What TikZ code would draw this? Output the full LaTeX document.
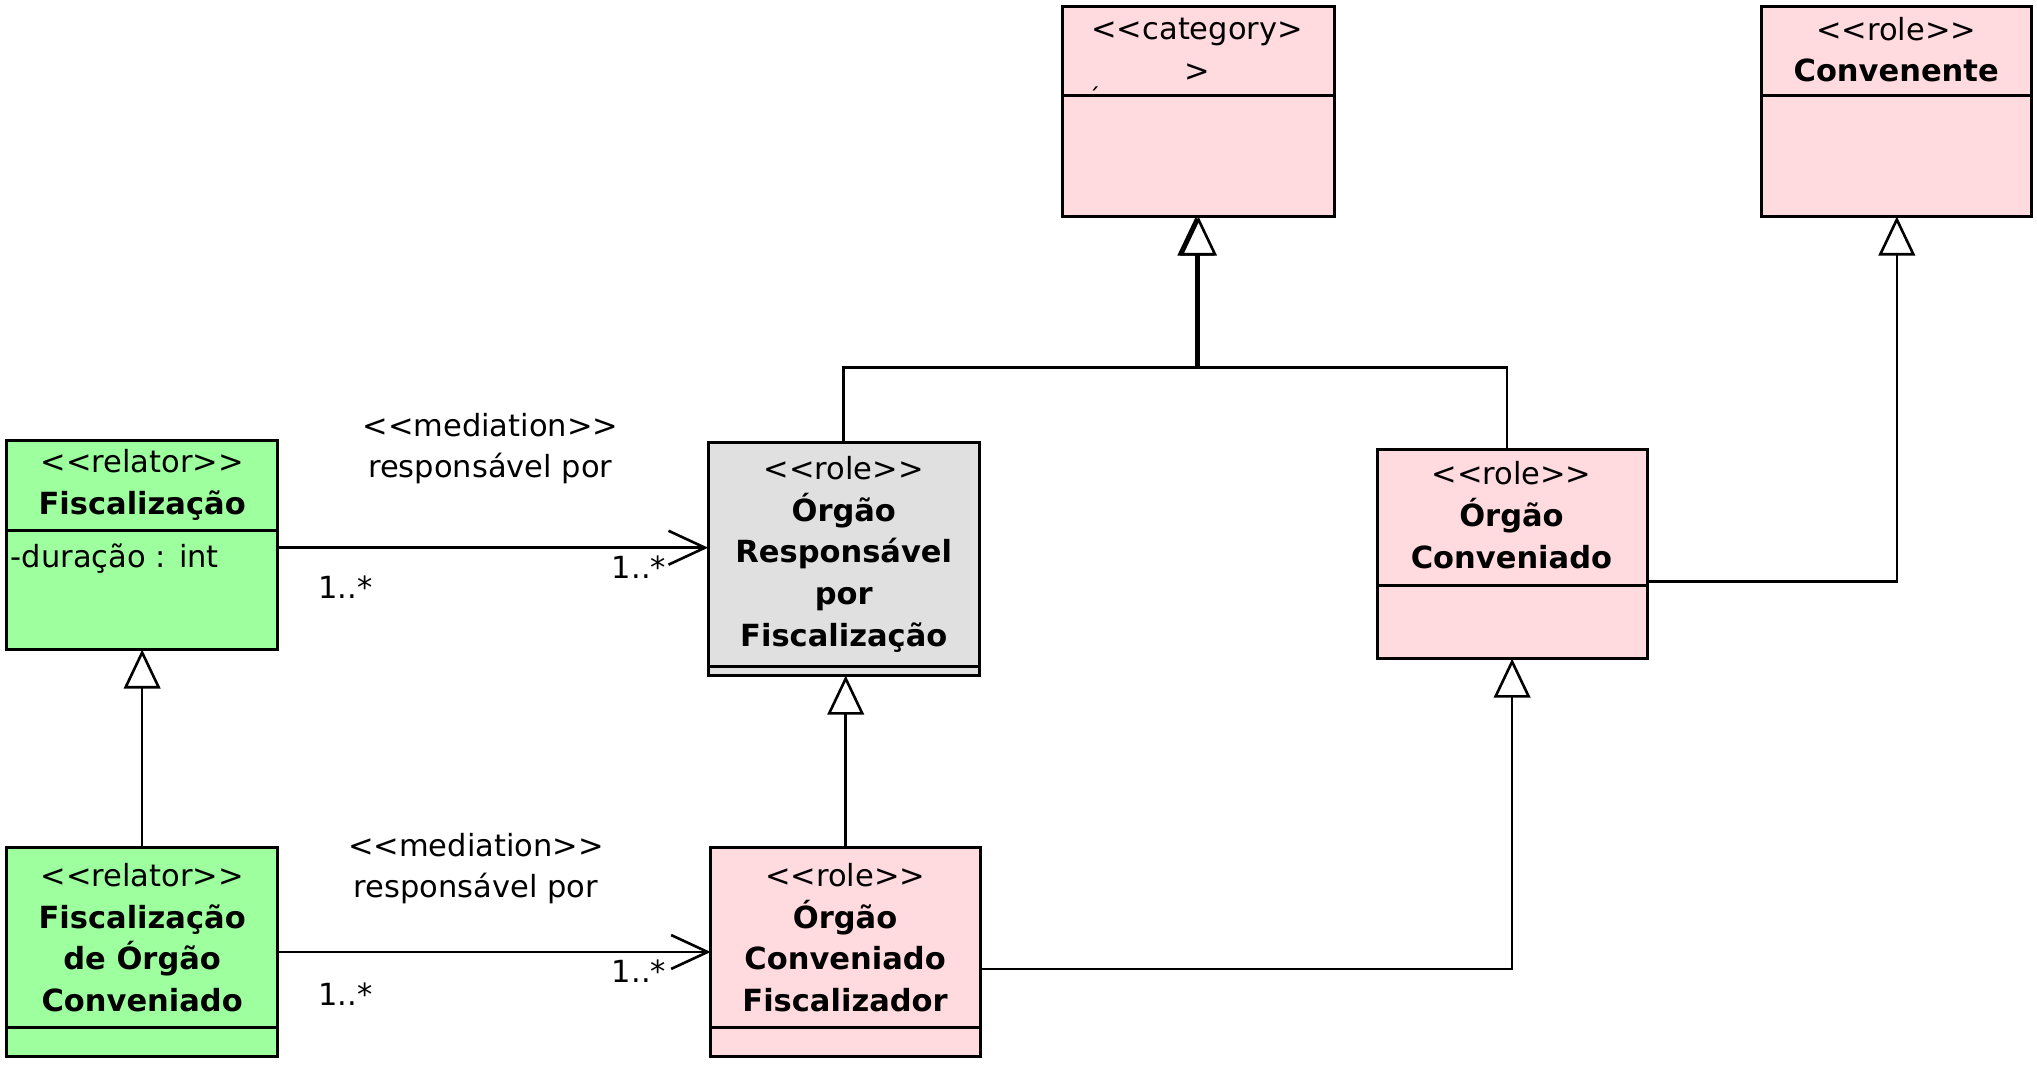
\documentclass[tikz,border=0pt]{standalone}
\usepackage{fontspec}
\setmainfont{DejaVu Sans}
\usetikzlibrary{arrows.meta}
\definecolor{relgreen}{RGB}{158,255,158}
\definecolor{rolepink}{RGB}{255,218,222}
\definecolor{rolegrey}{RGB}{224,224,224}
\newcommand\stereo[1]{<{}<#1>{}>}
\begin{document}
\begin{tikzpicture}[x=0.5pt,y=-0.5pt,
  txt/.style={font=\fontsize{11.7}{16}\selectfont, align=center, inner sep=0pt},
  classbox/.style={draw, line width=1.2pt, inner sep=0pt, outer sep=0pt, anchor=north west},
  sepline/.style={line width=1.2pt},
  gen/.style={line width=1pt, -{Triangle[open,length=15pt,width=14pt,fill=white]}},
  med/.style={line width=1pt, -{Straight Barb[length=14pt,width=13pt]}},
]
\useasboundingbox (0,0) rectangle (1562,817);

% boxes
\node[classbox, fill=relgreen, minimum width=104pt, minimum height=80pt] (fisc) at (5,338) {};
\node[classbox, fill=relgreen, minimum width=104pt, minimum height=80pt] (fiscoc) at (5,650) {};
\node[classbox, fill=rolegrey, minimum width=104pt, minimum height=89.5pt] (resp) at (543,339) {};
\node[classbox, fill=rolepink, minimum width=103.5pt, minimum height=80pt] (ocf) at (545,650) {};
\node[classbox, fill=rolepink, minimum width=103.5pt, minimum height=80pt] (oc) at (1056,345) {};
\node[classbox, fill=rolepink, minimum width=104pt, minimum height=80.5pt] (cat) at (815,5) {};
\node[classbox, fill=rolepink, minimum width=103.5pt, minimum height=80.5pt] (conv) at (1351,5) {};

% compartment separators
\draw[sepline] (fisc.west |- 0,407) -- (fisc.east |- 0,407);
\draw[sepline] (fiscoc.west |- 0,788) -- (fiscoc.east |- 0,788);
\draw[sepline] (resp.west |- 0,511) -- (resp.east |- 0,511);
\draw[sepline] (ocf.west |- 0,788) -- (ocf.east |- 0,788);
\draw[sepline] (oc.west |- 0,449) -- (oc.east |- 0,449);
\draw[sepline] (cat.west |- 0,73) -- (cat.east |- 0,73);
\draw[sepline] (conv.west |- 0,73) -- (conv.east |- 0,73);

% class texts
\node[txt] (tfisc) at (109,372) {\stereo{relator}\\\textbf{Fiscalização}};
\node[txt, anchor=west] (afisc) at (8,428) {-duração : int};
\node[txt] (tfiscoc) at (109,719) {\stereo{relator}\\\textbf{Fiscalização}\\\textbf{de Órgão}\\\textbf{Conveniado}};
\node[txt] (tresp) at (647,425) {\stereo{role}\\\textbf{Órgão}\\\textbf{Responsável}\\\textbf{por}\\\textbf{Fiscalização}};
\node[txt] (tocf) at (648,719) {\stereo{role}\\\textbf{Órgão}\\\textbf{Conveniado}\\\textbf{Fiscalizador}};
\node[txt] (toc) at (1159,395) {\stereo{role}\\\textbf{Órgão}\\\textbf{Conveniado}};
\node[txt] (tcat) at (918,38) {<{}<category>{}\\>};
\node[txt, font=\fontsize{9}{10}\selectfont] (tick) at (839,74) {´};
\node[txt] (tconv) at (1454,38) {\stereo{role}\\\textbf{Convenente}};

% mediations
\draw[med] (fisc.east |- 0,420) -- (resp.west |- 0,420);
\node[txt] (m1) at (376,344) {\stereo{mediation}\\responsável por};
\node[txt] (m1s) at (265,450) {1..*};
\node[txt] (m1t) at (490,435) {1..*};

\draw[med] (fiscoc.east |- 0,730) -- (ocf.west |- 0,730);
\node[txt] (m2) at (365,666) {\stereo{mediation}\\responsável por};
\node[txt] (m2s) at (265,762) {1..*};
\node[txt] (m2t) at (490,745) {1..*};

% generalizations
\draw[gen] (fiscoc.north) -- (fisc.south);
\draw[gen] (ocf.north |- fiscoc.north) -- (ocf.north |- resp.south);
\draw[gen] (ocf.east |- 0,743) -| (oc.south);
\draw[gen] (oc.east |- 0,446) -| (conv.south);
\coordinate (j1) at (917,282);
\coordinate (j2) at (919,282);
\draw[gen] (resp.north) |- (j1) -- (j1 |- cat.south);
\draw[gen] ([xshift=-2pt]oc.north) |- (j2) -- (j2 |- cat.south);
\end{tikzpicture}
\end{document}
